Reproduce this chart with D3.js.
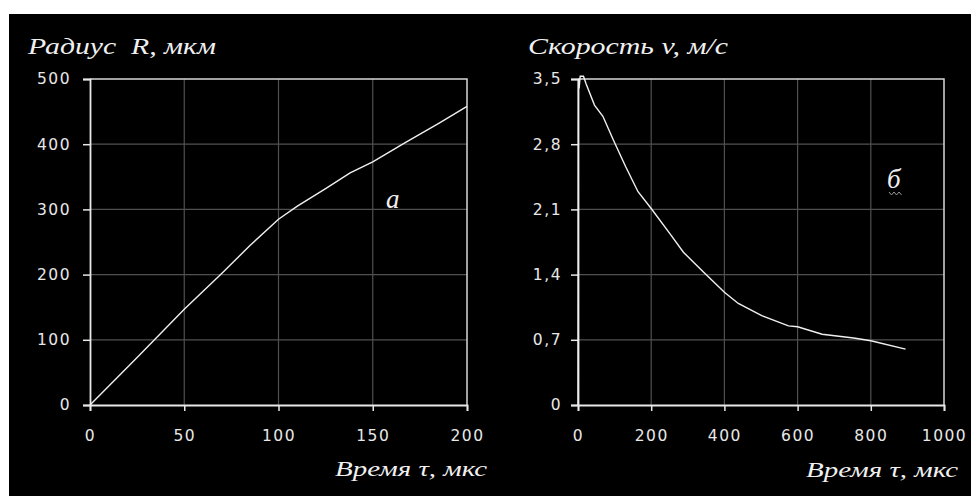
<!DOCTYPE html>
<html>
<head>
<meta charset="utf-8">
<script src="https://cdn.jsdelivr.net/npm/d3@7"></script>
<style>
  body { margin: 0; background: #fff; }
  .tick text { font-family: "DejaVu Sans", sans-serif; font-size: 15.5px; fill: #e8e8e8; letter-spacing: 1.5px; }
  .ttl { font-family: "Liberation Serif", serif; font-style: italic; fill: #f0f0f0; white-space: pre; }
</style>
</head>
<body>
<div id="chart"></div>
<script>
// radius of the bubble, mkm, vs time, mks (panel a)
var radiusTime = [0, 25, 50, 70, 85, 100, 110, 125, 138, 150, 167, 185, 200];
var radiusVals = [0, 73, 147, 202, 245, 285, 305, 332, 356, 373, 402, 432, 458];
// velocity, m/s, vs time, mks (panel b)
var speedTime = [0, 1, 3, 6, 15, 22, 45, 68, 96, 130, 164, 200, 251, 288, 342, 400, 438, 502, 575, 600, 667, 753, 800, 895];
var speedVals = [0, 3.5, 3.4, 3.53, 3.53, 3.45, 3.22, 3.1, 2.85, 2.56, 2.29, 2.11, 1.84, 1.64, 1.43, 1.21, 1.09, 0.96, 0.85, 0.84, 0.76, 0.72, 0.69, 0.6];

var radiusXTicks = [0, 50, 100, 150, 200];
var radiusYTicks = [0, 100, 200, 300, 400, 500];
var speedXTicks = [0, 200, 400, 600, 800, 1000];
var speedYTicks = [0, 0.7, 1.4, 2.1, 2.8, 3.5];

var W = 971, H = 496;
var svg = d3.select("#chart").append("svg")
  .attr("width", W).attr("height", H);

svg.append("rect").attr("width", W).attr("height", H).attr("fill", "#fff");
svg.append("rect").attr("x", 9).attr("y", 14).attr("width", W - 9).attr("height", H - 14).attr("fill", "#000");

var plotTop = 79, plotBottom = 405;

function commaFmt(d) { return d === 0 ? "0" : String(d).replace(".", ","); }

function panel(opt) {
  var x = d3.scaleLinear().domain(opt.xDomain).range([opt.left, opt.right]);
  var y = d3.scaleLinear().domain(opt.yDomain).range([plotBottom, plotTop]);
  var g = svg.append("g");

  // grid
  g.selectAll(".vg").data(opt.xTicks.slice(1, -1)).enter().append("line")
    .attr("x1", function(d) { return x(d); }).attr("x2", function(d) { return x(d); })
    .attr("y1", plotTop).attr("y2", plotBottom)
    .attr("stroke", "#505050").attr("stroke-width", 1.2);
  g.selectAll(".hg").data(opt.yTicks.slice(1, -1)).enter().append("line")
    .attr("y1", function(d) { return y(d); }).attr("y2", function(d) { return y(d); })
    .attr("x1", opt.left).attr("x2", opt.right)
    .attr("stroke", "#505050").attr("stroke-width", 1.2);

  // top / right frame
  g.append("path")
    .attr("d", "M" + opt.left + "," + plotTop + "H" + opt.right + "V" + plotBottom)
    .attr("fill", "none").attr("stroke", "#d8d8d8").attr("stroke-width", 1.5);

  var xa = g.append("g").attr("transform", "translate(0," + plotBottom + ")")
    .call(d3.axisBottom(x).tickValues(opt.xTicks).tickSize(6).tickPadding(19).tickFormat(d3.format("d")));
  var ya = g.append("g").attr("transform", "translate(" + opt.left + ",0)")
    .call(d3.axisLeft(y).tickValues(opt.yTicks).tickSize(7).tickPadding(opt.yPad).tickFormat(opt.yFmt));
  [xa, ya].forEach(function(a) {
    a.select(".domain").attr("stroke", "#e8e8e8").attr("stroke-width", 1.8);
    a.selectAll(".tick line").attr("stroke", "#e8e8e8").attr("stroke-width", 1.5);
  });

  var line = d3.line().x(function(d) { return x(d[0]); }).y(function(d) { return y(d[1]); });
  g.append("path").datum(d3.zip(opt.t, opt.v))
    .attr("d", line)
    .attr("fill", "none").attr("stroke", "#f0f0f0").attr("stroke-width", 1.4);
  return { x: x, y: y };
}

var pa = panel({
  left: 90, right: 467, xDomain: [0, 200], yDomain: [0, 500],
  xTicks: radiusXTicks, yTicks: radiusYTicks, yPad: 12, yFmt: d3.format("d"),
  t: radiusTime, v: radiusVals
});
var pb = panel({
  left: 578, right: 944, xDomain: [0, 1000], yDomain: [0, 3.5],
  xTicks: speedXTicks, yTicks: speedYTicks, yPad: 9, yFmt: commaFmt,
  t: speedTime, v: speedVals
});

// titles
svg.append("text").attr("class", "ttl").attr("x", 28).attr("y", 54)
  .attr("font-size", 24).attr("textLength", 188).attr("lengthAdjust", "spacingAndGlyphs")
  .text("Радиус  R, мкм");
svg.append("text").attr("class", "ttl").attr("x", 528).attr("y", 54)
  .attr("font-size", 24).attr("textLength", 200).attr("lengthAdjust", "spacingAndGlyphs")
  .text("Скорость v, м/с");
svg.append("text").attr("class", "ttl").attr("x", 335).attr("y", 476)
  .attr("font-size", 22).attr("textLength", 152).attr("lengthAdjust", "spacingAndGlyphs")
  .text("Время τ, мкс");
svg.append("text").attr("class", "ttl").attr("x", 806).attr("y", 477)
  .attr("font-size", 22).attr("textLength", 152).attr("lengthAdjust", "spacingAndGlyphs")
  .text("Время τ, мкс");

// panel letters
svg.append("text").attr("class", "ttl").attr("x", 386).attr("y", 208)
  .attr("font-size", 27).text("а");
svg.append("text").attr("class", "ttl").attr("x", 887).attr("y", 188)
  .attr("font-size", 27).text("б");
svg.append("path")
  .attr("d", "M889,192l2.5,3l2.5,-3l2.5,3l2.5,-3l2.5,3")
  .attr("fill", "none").attr("stroke", "#999").attr("stroke-width", 1);
</script>
</body>
</html>
